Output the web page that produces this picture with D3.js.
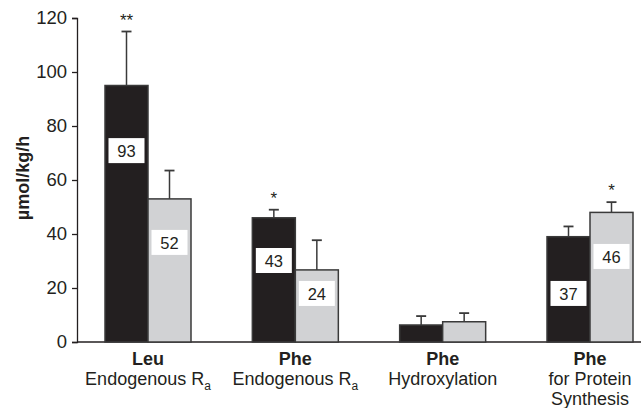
<!DOCTYPE html>
<html>
<head>
<meta charset="utf-8">
<script src="https://cdn.jsdelivr.net/npm/d3@7"></script>
<style>
  body { margin: 0; background: #fff; }
  text { font-family: Arial, "Liberation Sans", sans-serif; fill: #231f20; }
</style>
</head>
<body>
<svg id="chart" width="641" height="408"></svg>
<script>
// data
const categories = ['leu', 'pheEndo', 'pheHydrox', 'pheProt'];
const boldLabels = ['Leu', 'Phe', 'Phe', 'Phe'];
const subLabels = [['Endogenous R', 'a'], ['Endogenous R', 'a'], ['Hydroxylation'], ['for Protein', 'Synthesis']];
const blackValues = [95, 46, 6.3, 39];
const blackErrors = [20, 3, 3.3, 3.8];
const grayValues = [53, 26.7, 7.5, 48];
const grayErrors = [10.5, 11, 3.2, 3.8];
const blackBoxes = ['93', '43', null, '37'];
const grayBoxes = ['52', '24', null, '46'];
const blackBoxAt = [70.7, 30, null, 17.8];
const grayBoxAt = [36.7, 17.8, null, 31.5];
const blackStars = ['**', '*', '', ''];
const grayStars = ['', '', '', '*'];
const yTicks = [0, 20, 40, 60, 80, 100, 120];

const svg = d3.select('#chart');
const plotLeft = 77, plotBottom = 342, plotTop = 18;

const y = d3.scaleLinear().domain([0, 120]).range([plotBottom, plotTop]);
const x = d3.scalePoint().domain(categories).range([148, 590]);
const barW = 43;

// axes
const yAxis = svg.append('g')
    .attr('transform', `translate(${plotLeft},0)`)
    .call(d3.axisLeft(y).tickValues(yTicks).tickSize(5).tickPadding(5));
yAxis.select('.domain').attr('stroke', '#231f20').attr('stroke-width', 1.3);
yAxis.selectAll('.tick line').attr('stroke', '#231f20').attr('stroke-width', 1.3);
yAxis.selectAll('.tick text')
    .style('font-size', '18.5px')
    .style('font-family', 'Arial, "Liberation Sans", sans-serif')
    .attr('fill', '#231f20');

svg.append('line')
    .attr('x1', plotLeft).attr('x2', 641)
    .attr('y1', y(0)).attr('y2', y(0))
    .attr('stroke', '#231f20').attr('stroke-width', 1.5);

svg.append('text')
    .attr('transform', `translate(29,178) rotate(-90)`)
    .attr('text-anchor', 'middle')
    .style('font-size', '18px')
    .style('font-weight', 'bold')
    .text('µmol/kg/h');

function drawSeries(values, errors, fill, offset, boxes, boxAt, stars) {
  const g = svg.append('g');
  // error bars (up only)
  categories.forEach((c, i) => {
    const cx = x(c) + offset + barW / 2;
    g.append('line')
      .attr('x1', cx).attr('x2', cx)
      .attr('y1', y(values[i])).attr('y2', y(values[i] + errors[i]))
      .attr('stroke', '#3a3a3a').attr('stroke-width', 1.5);
    g.append('line')
      .attr('x1', cx - 5).attr('x2', cx + 5)
      .attr('y1', y(values[i] + errors[i])).attr('y2', y(values[i] + errors[i]))
      .attr('stroke', '#3a3a3a').attr('stroke-width', 1.8);
  });
  g.selectAll('rect.bar')
    .data(values)
    .enter()
    .append('rect')
    .attr('class', 'bar')
    .attr('x', (d, i) => x(categories[i]) + offset)
    .attr('y', d => y(d))
    .attr('width', barW)
    .attr('height', d => y(0) - y(d))
    .attr('fill', fill)
    .attr('stroke', '#3a3a3a')
    .attr('stroke-width', 1.5);
  categories.forEach((c, i) => {
    const cx = x(c) + offset + barW / 2;
    if (boxes[i]) {
      const cy = y(boxAt[i]);
      g.append('rect')
        .attr('x', cx - 18).attr('y', cy - 13)
        .attr('width', 36).attr('height', 25)
        .attr('fill', '#fff');
      g.append('text')
        .attr('x', cx).attr('y', cy)
        .attr('dy', '0.36em')
        .attr('text-anchor', 'middle')
        .style('font-size', '16.5px')
        .text(boxes[i]);
    }
    if (stars[i]) {
      g.append('text')
        .attr('x', cx).attr('y', y(values[i] + errors[i]) - 6)
        .attr('text-anchor', 'middle')
        .style('font-size', '17px')
        .text(stars[i]);
    }
  });
}

drawSeries(blackValues, blackErrors, '#231f20', -barW, blackBoxes, blackBoxAt, blackStars);
drawSeries(grayValues, grayErrors, '#d1d2d4', 0, grayBoxes, grayBoxAt, grayStars);

// category labels
categories.forEach((c, i) => {
  const cx = x(c);
  svg.append('text')
    .attr('x', cx).attr('y', 365)
    .attr('text-anchor', 'middle')
    .style('font-size', '18px')
    .style('font-weight', 'bold')
    .text(boldLabels[i]);
  const sub = subLabels[i];
  if (sub[0].startsWith('Endogenous')) {
    const t = svg.append('text')
      .attr('x', cx).attr('y', 385)
      .attr('text-anchor', 'middle')
      .style('font-size', '18px');
    t.append('tspan').text(sub[0]);
    t.append('tspan').attr('dy', 5).style('font-size', '12px').text(sub[1]);
  } else {
    sub.forEach((s, j) => {
      svg.append('text')
        .attr('x', cx).attr('y', 385 + j * 20)
        .attr('text-anchor', 'middle')
        .style('font-size', '18px')
        .text(s);
    });
  }
});
</script>
</body>
</html>
